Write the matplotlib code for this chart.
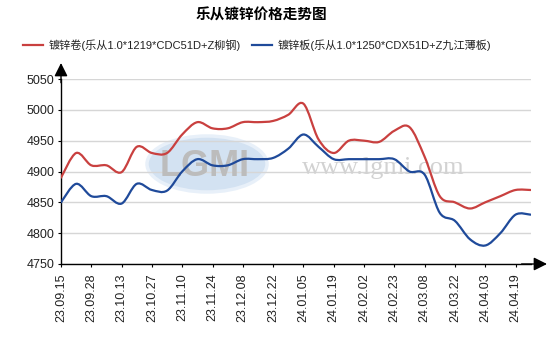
import numpy as np
import matplotlib
matplotlib.use("Agg")
import matplotlib.pyplot as plt
from matplotlib.path import Path
from matplotlib.patches import PathPatch, Ellipse
from matplotlib.lines import Line2D

plt.rcParams['font.family'] = ['Liberation Sans', 'Noto Sans CJK SC', 'DejaVu Sans']

title = "乐从镀锌价格走势图"
coil_name = "镀锌卷(乐从1.0*1219*CDC51D+Z柳钢)"
sheet_name = "镀锌板(乐从1.0*1250*CDX51D+Z九江薄板)"

tick_labels = ["23.09.15", "23.09.28", "23.10.13", "23.10.27", "23.11.10", "23.11.24",
               "23.12.08", "23.12.22", "24.01.05", "24.01.19", "24.02.02", "24.02.23",
               "24.03.08", "24.03.22", "24.04.03", "24.04.19"]

coil_price = [4890, 4930, 4910, 4910, 4899, 4940, 4930, 4930, 4960, 4980, 4970, 4970,
              4980, 4980, 4982, 4992, 5010, 4952, 4930, 4950, 4950, 4948, 4966, 4972,
              4924, 4860, 4850, 4840, 4850, 4860, 4870, 4870]
sheet_price = [4850, 4880, 4860, 4860, 4848, 4880, 4870, 4869, 4900, 4920, 4910, 4910,
               4920, 4920, 4922, 4937, 4960, 4940, 4920, 4920, 4920, 4920, 4920, 4900,
               4895, 4833, 4820, 4790, 4780, 4800, 4830, 4830]

yticks = [4750, 4800, 4850, 4900, 4950, 5000, 5050]

RED = "#c9403f"
BLUE = "#1f4a9a"


def smooth_path(xs, ys):
    """Catmull-Rom curve through the points, expressed as cubic Bezier segments."""
    pts = np.column_stack([xs, ys]).astype(float)
    n = len(pts)
    verts = [pts[0]]
    codes = [Path.MOVETO]
    for i in range(n - 1):
        p0 = pts[i - 1] if i > 0 else pts[i]
        p1 = pts[i]
        p2 = pts[i + 1]
        p3 = pts[i + 2] if i + 2 < n else pts[i + 1]
        c1 = p1 + (p2 - p0) / 6.0
        c2 = p2 - (p3 - p1) / 6.0
        verts += [c1, c2, p2]
        codes += [Path.CURVE4] * 3
    return Path(verts, codes)


W, H = 547, 343
fig = plt.figure(figsize=(W / 100, H / 100), dpi=100)
x0, x1, y0, y1 = 61, 531, 79, 264
ax = fig.add_axes([x0 / W, 1 - y1 / H, (x1 - x0) / W, (y1 - y0) / H])

x = np.arange(len(coil_price))
ax.set_xlim(0, (x1 - x0) / 15.15)
ax.set_ylim(4750, 5050)

ax.set_yticks(yticks)
ax.yaxis.grid(True, color="#d6d6d6", lw=1)
ax.set_axisbelow(True)
ax.set_xticks(x[::2])
ax.set_xticklabels(tick_labels, rotation=90, va="top", ha="center")
ax.tick_params(axis="both", length=2.5, width=0.8, color="black", labelsize=9,
               labelcolor="#222222")
ax.tick_params(axis="x", pad=4)
ax.tick_params(axis="y", pad=2)

for side in ("top", "right"):
    ax.spines[side].set_visible(False)
for side in ("left", "bottom"):
    ax.spines[side].set_color("black")
    ax.spines[side].set_linewidth(1)

# axis arrows
ax.annotate("", xy=((547 - x0) / (x1 - x0), 0), xytext=(0.98, 0), xycoords="axes fraction",
            arrowprops=dict(arrowstyle="-|>", color="black", lw=1, mutation_scale=20,
                            shrinkA=0, shrinkB=0), annotation_clip=False)
ax.annotate("", xy=(0, (y1 - 63) / (y1 - y0)), xytext=(0, 0.98), xycoords="axes fraction",
            arrowprops=dict(arrowstyle="-|>", color="black", lw=1, mutation_scale=20,
                            shrinkA=0, shrinkB=0), annotation_clip=False)

# watermark
ax.add_patch(Ellipse(((207 - x0) / (x1 - x0), (y1 - 164) / (y1 - y0)),
                     120 / (x1 - x0), 56 / (y1 - y0), transform=ax.transAxes,
                     facecolor="#d3e2f2", edgecolor="#e8f0f9", lw=2.5, zorder=0.5))
ax.text((205 - x0) / (x1 - x0), (y1 - 166) / (y1 - y0), "LGMI", transform=ax.transAxes,
        fontsize=26, fontweight="bold", color="#bcbcbc", ha="center", va="center",
        zorder=0.6)
ax.text((383 - x0) / (x1 - x0), (y1 - 168) / (y1 - y0), "www.lgmi.com",
        transform=ax.transAxes, fontsize=19, family="Liberation Serif", color="#d2d2d2",
        ha="center", va="center", zorder=0.6)

for vals, color in ((coil_price, RED), (sheet_price, BLUE)):
    ax.add_patch(PathPatch(smooth_path(x, vals), fill=False, edgecolor=color, lw=1.6,
                           zorder=3, capstyle="round", joinstyle="round"))

fig.text(261 / W, 1 - 16 / H, title, ha="center", va="center", fontsize=10.5,
         fontweight="bold", color="black")

handles = [Line2D([], [], color=RED, lw=1.6), Line2D([], [], color=BLUE, lw=1.6)]
fig.legend(handles, [coil_name, sheet_name], loc="center", ncol=2,
           bbox_to_anchor=(257 / W, 1 - 45 / H), frameon=False, fontsize=8,
           handlelength=1.8, handletextpad=0.5, columnspacing=1.0,
           labelcolor="#222222")

fig.savefig("out.png", dpi=100)
